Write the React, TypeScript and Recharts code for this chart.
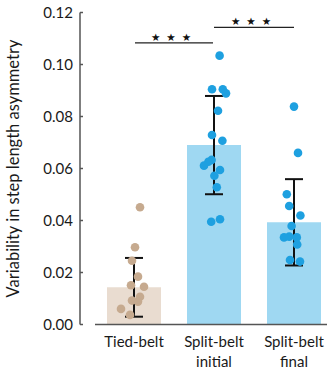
import {
  Bar,
  Cell,
  ComposedChart,
  ErrorBar,
  ReferenceLine,
  Scatter,
  XAxis,
  YAxis,
} from "recharts";

const categories = ["Tied-belt", "Split-belt\ninitial", "Split-belt\nfinal"];
const means = [0.0143, 0.069, 0.0393];
const sds = [0.0113, 0.0189, 0.0166];
const yTicks = [0, 0.02, 0.04, 0.06, 0.08, 0.1, 0.12];

// individual subjects, x jitter in category units
const tiedValues = [0.0451, 0.0297, 0.0245, 0.0184, 0.0151, 0.0145, 0.0107, 0.0092, 0.0088, 0.006, 0.0037];
const tiedJitter = [0.075, 0.0125, -0.025, 0.05, -0.0375, 0.125, 0.075, -0.025, 0.05, -0.1625, -0.05];
const initialValues = [0.1034, 0.0905, 0.0905, 0.0889, 0.0822, 0.0729, 0.0707, 0.0633, 0.0626, 0.0611, 0.0594, 0.0572, 0.0528, 0.0395, 0.0405];
const initialJitter = [0.07, -0.025, 0.11, 0.15, 0.05, -0.025, 0.105, -0.03, -0.07, -0.125, 0.075, 0.005, 0.035, -0.035, 0.075];
const finalValues = [0.0838, 0.066, 0.0501, 0.0456, 0.0419, 0.0379, 0.0335, 0.0338, 0.0335, 0.0308, 0.0248, 0.0242];
const finalJitter = [0, 0.05, -0.09, -0.06, 0.08, -0.03, -0.125, -0.06, 0.035, 0.04, -0.05, 0.075];

// significance brackets: [from, to, height]
const brackets = [
  [0.0125, 0.9875, 0.1083],
  [1.0, 2.0, 0.1143],
];

const FONT = "Lato, 'Noto Sans', sans-serif";
const TAN_BAR = "#e9dcd0";
const TAN_DOT = "#c6aa8f";
const BLUE_BAR = "#9fd8f2";
const BLUE_DOT = "#1ea0e0";
const DOMAIN: [number, number] = [-0.675, 2.4125];

const barData = means.map((m, i) => ({ pos: i, mean: m, sd: sds[i] }));
const toPoints = (vals: number[], jit: number[], pos: number) =>
  vals.map((v, i) => ({ pos: pos + jit[i], val: v }));

const tiedPts = toPoints(tiedValues, tiedJitter, 0);
const initialPts = toPoints(initialValues, initialJitter, 1);
const finalPts = toPoints(finalValues, finalJitter, 2);
const errPts = means.map((m, i) => ({ pos: i, val: m, sd: sds[i] }));

function CategoryTick({ x, y, payload }: any) {
  const lines = categories[payload.value].split("\n");
  return (
    <text x={x} y={y} textAnchor="middle" fontFamily={FONT} fontSize={15} fill="#1a1a1a">
      {lines.map((l, i) => (
        <tspan key={i} x={x} dy={i === 0 ? 14 : 20}>
          {l}
        </tspan>
      ))}
    </text>
  );
}

const dot = (color: string) => (p: any) => <circle cx={p.cx} cy={p.cy} r={4.3} fill={color} />;

export default function App() {
  return (
    <div style={{ position: "absolute", left: 0, top: 0, background: "#fff" }}>
      <ComposedChart
        width={327}
        height={370}
        data={barData}
        margin={{ top: 12.5, right: 0, bottom: 0, left: 0 }}
      >
        <XAxis
          dataKey="pos"
          type="number"
          domain={DOMAIN}
          ticks={[0, 1, 2]}
          axisLine={false}
          tickLine={false}
          tick={<CategoryTick />}
          height={45.5}
          allowDataOverflow
        />
        <XAxis xAxisId="bars" dataKey="pos" type="number" domain={DOMAIN} ticks={[0, 1, 2]} hide allowDataOverflow />
        <YAxis
          type="number"
          domain={[0, 0.12]}
          ticks={yTicks}
          width={80}
          tickFormatter={(v: number) => v.toFixed(2)}
          tick={{ fontFamily: FONT, fontSize: 15, fill: "#1a1a1a" }}
          tickSize={-3}
          tickMargin={10}
          axisLine={{ stroke: "#555", strokeWidth: 1.5 }}
          tickLine={{ stroke: "#555", strokeWidth: 1.5 }}
          label={{
            value: "Variability in step length asymmetry",
            angle: -90,
            position: "insideLeft",
            offset: 13,
            style: { textAnchor: "middle", fontFamily: FONT, fontSize: 16.5, fill: "#1a1a1a" },
          }}
        />
        <ReferenceLine
          segment={[
            { x: -0.4875, y: 0 },
            { x: 2.4125, y: 0 },
          ]}
          stroke="#555"
          strokeWidth={1.5}
        />
        <Bar xAxisId="bars" dataKey="mean" barSize={54} isAnimationActive={false}>
          {barData.map((d, i) => (
            <Cell key={i} fill={i === 0 ? TAN_BAR : BLUE_BAR} />
          ))}
        </Bar>
        <Scatter data={tiedPts} dataKey="val" fill={TAN_DOT} isAnimationActive={false} shape={dot(TAN_DOT)} />
        <Scatter data={initialPts} dataKey="val" fill={BLUE_DOT} isAnimationActive={false} shape={dot(BLUE_DOT)} />
        <Scatter data={finalPts} dataKey="val" fill={BLUE_DOT} isAnimationActive={false} shape={dot(BLUE_DOT)} />
        <Scatter data={errPts} dataKey="val" isAnimationActive={false} shape={() => <g />}>
          <ErrorBar dataKey="sd" direction="y" width={9} stroke="#111" strokeWidth={2} />
        </Scatter>
        {brackets.map(([a, b, h], i) => (
          <ReferenceLine
            key={i}
            segment={[
              { x: a, y: h },
              { x: b, y: h },
            ]}
            stroke="#222"
            strokeWidth={1.2}
            label={{
              value: "★★★",
              position: "top",
              offset: 2,
              style: { fontSize: 10.5, letterSpacing: 6, fill: "#111", fontFamily: "DejaVu Sans" },
            }}
          />
        ))}
      </ComposedChart>
    </div>
  );
}
